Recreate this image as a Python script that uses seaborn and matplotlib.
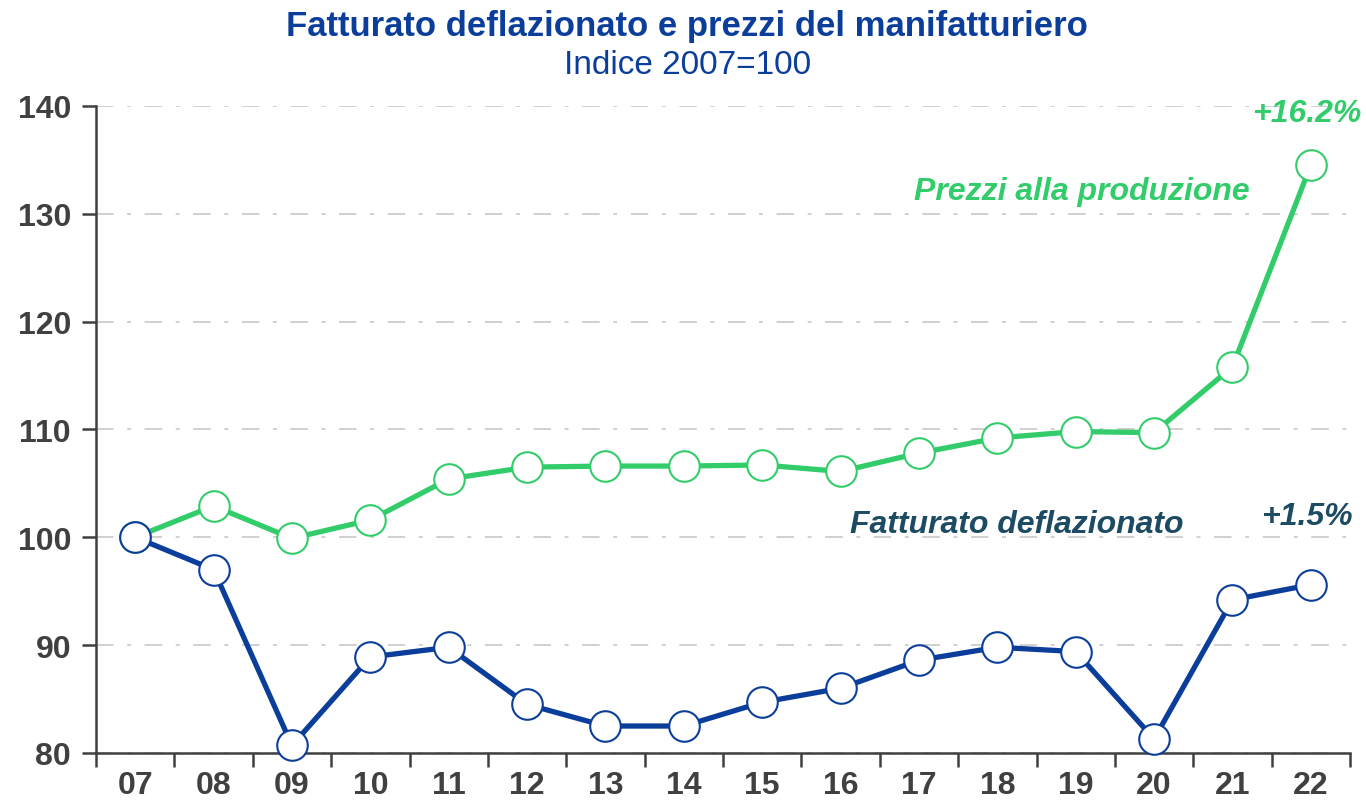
import seaborn as sns
import matplotlib.pyplot as plt
import pandas as pd

# data
anni = ["07", "08", "09", "10", "11", "12", "13", "14", "15", "16", "17", "18", "19", "20", "21", "22"]
prezzi = [100.0, 102.9, 99.9, 101.6, 105.4, 106.5, 106.6, 106.6, 106.7, 106.1, 107.8, 109.2, 109.8, 109.7, 115.8, 134.5]
fatturato = [100.0, 97.0, 80.7, 88.9, 89.8, 84.5, 82.5, 82.5, 84.7, 86.0, 88.6, 89.8, 89.4, 81.3, 94.2, 95.6]

verde = "#33CC6B"
blu = "#0B3E9A"
blu_testo = "#1D4B63"
grigio = "#404040"

df = pd.DataFrame({
    "anno": anni * 2,
    "x": list(range(len(anni))) * 2,
    "valore": prezzi + fatturato,
    "serie": ["Prezzi alla produzione"] * len(anni) + ["Fatturato deflazionato"] * len(anni),
})

sns.set_theme(style="white")
plt.rcParams['font.family'] = ['Liberation Sans', 'DejaVu Sans']

fig = plt.figure(figsize=(13.66, 8.04), dpi=100)
ax = fig.add_axes([0.0703, 0.0622, 0.918, 0.805])

sns.lineplot(data=df, x="x", y="valore", hue="serie",
             palette={"Prezzi alla produzione": verde, "Fatturato deflazionato": blu},
             linewidth=3.8, marker="o", markersize=22, markerfacecolor="white",
             markeredgewidth=1.5, legend=False, ax=ax, zorder=3)
# marker edge colours per line
for line in ax.get_lines():
    line.set_markeredgecolor(line.get_color())
    line.set_clip_on(False)

ax.set_xlim(-0.5, len(anni) - 0.5)
ax.set_ylim(80, 140)
ax.set_yticks(range(80, 141, 10))
ax.set_xticks(range(len(anni)))
ax.set_xticklabels(anni)
ax.set_xticks([i - 0.5 for i in range(len(anni) + 1)], minor=True)
ax.tick_params(axis="x", which="major", bottom=False, length=0, pad=12)
ax.tick_params(axis="x", which="minor", bottom=True, length=10, width=1.8, color=grigio, direction="out")
ax.tick_params(axis="y", left=True, length=10, width=1.8, color=grigio, direction="out", pad=8)
for lab in ax.get_xticklabels() + ax.get_yticklabels():
    lab.set_fontsize(23)
    lab.set_fontweight("bold")
    lab.set_color(grigio)

ax.yaxis.grid(True, color="#D0D0D0", linestyle=(0, (9, 7, 2, 7)), linewidth=1.4)
ax.set_axisbelow(True)
for s in ["top", "right"]:
    ax.spines[s].set_visible(False)
for s in ["left", "bottom"]:
    ax.spines[s].set_color(grigio)
    ax.spines[s].set_linewidth(1.8)
ax.set_xlabel("")
ax.set_ylabel("")

ax.text(14.22, 132.1, "Prezzi alla produzione", color=verde, fontsize=23,
        fontweight="bold", style="italic", ha="right", va="center")
ax.text(13.37, 101.2, "Fatturato deflazionato", color=blu_testo, fontsize=23,
        fontweight="bold", style="italic", ha="right", va="center")
ax.text(15.64, 139.3, "+16.2%", color=verde, fontsize=23,
        fontweight="bold", style="italic", ha="right", va="center")
ax.text(14.95, 102.0, "+1.5%", color=blu_testo, fontsize=23,
        fontweight="bold", style="italic", ha="center", va="center")

fig.text(0.503, 0.967, "Fatturato deflazionato e prezzi del manifatturiero",
         color="#0B3E9A", fontsize=25, fontweight="bold", ha="center", va="center")
fig.text(0.503, 0.919, "Indice 2007=100", color="#0B3E9A", fontsize=24,
         ha="center", va="center")

fig.savefig("out.png", dpi=100)
